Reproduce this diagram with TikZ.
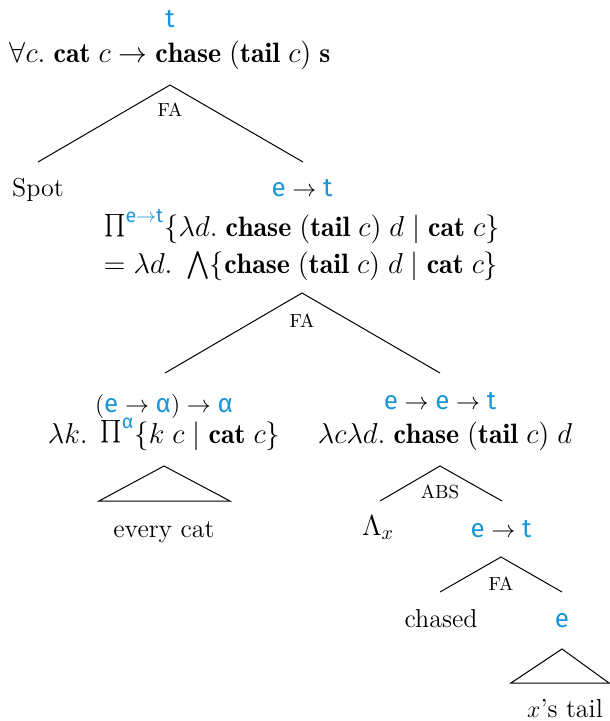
\documentclass[tikz,border=0pt]{standalone}
\usepackage{amsmath, amssymb}
\usepackage{graphicx}
\usepackage{fontspec}
\usepackage{tikz}
\usetikzlibrary{positioning}
\newfontfamily\typefont{Fira Sans}
\definecolor{typeblue}{RGB}{24,150,214}
\newcommand{\ty}[1]{\text{\color{typeblue}\typefont #1}}
\newcommand{\tyto}{{\color{typeblue}\to}}
\newcommand{\bigprod}{\mathop{\raisebox{0.2em}{\scalebox{0.8}{$\prod$}}}\nolimits}

\begin{document}
\begin{tikzpicture}[
  x=0.5pt, y=-0.5pt,
  lbl/.style={anchor=base, inner sep=0pt, font=\fontsize{13}{15}\selectfont},
  formula/.style={anchor=base, inner sep=0pt, font=\fontsize{14}{16}\selectfont},
  rulelbl/.style={anchor=base, inner sep=0pt, font=\fontsize{9.5}{11}\selectfont},
  branch/.style={line width=0.5pt}
]
  \useasboundingbox (0,0) rectangle (609,721);

  \node[lbl] (roottype) at (170,28) {$\ty{t}$};
  \node[formula] (root) at (170,63) {$\forall c.\;\mathbf{cat}\;c \rightarrow \mathbf{chase}\;(\mathbf{tail}\;c)\;\mathbf{s}$};
  \coordinate (fa1top) at (170,85);
  \coordinate (fa1left) at (38,162);
  \coordinate (fa1right) at (303,162);
  \node[rulelbl] (fa1) at (170,117) {FA};
  \draw[branch] (fa1left) -- (fa1top) -- (fa1right);

  \node[lbl] (spot) at (38,197) {Spot};
  \node[lbl] (vptype) at (302,197) {$\ty{e}\to\ty{t}$};
  \node[formula] (vp) at (302,237) {$\bigprod^{\ty{e}\tyto\ty{t}}\{\lambda d.\;\mathbf{chase}\;(\mathbf{tail}\;c)\;d \mid \mathbf{cat}\;c\}$};
  \node[formula] (vpeq) at (301,273) {$= \lambda d.\ \bigwedge\{\mathbf{chase}\;(\mathbf{tail}\;c)\;d \mid \mathbf{cat}\;c\}$};
  \coordinate (fa2top) at (302,293);
  \coordinate (fa2left) at (165,373);
  \coordinate (fa2right) at (440,373);
  \node[rulelbl] (fa2) at (302,327) {FA};
  \draw[branch] (fa2left) -- (fa2top) -- (fa2right);

  \node[lbl] (objtype) at (164,412) {$(\ty{e}\to\ty{α})\to\ty{α}$};
  \node[formula] (obj) at (164,443) {$\lambda k.\;\bigprod^{\ty{α}}\{k\;c \mid \mathbf{cat}\;c\}$};
  \coordinate (tri1top) at (164,466);
  \coordinate (tri1left) at (99,501);
  \coordinate (tri1right) at (230,501);
  \draw[branch] (tri1left) -- (tri1top) -- (tri1right) -- cycle;
  \node[lbl] (everycat) at (164,537) {every cat};

  \node[lbl] (vtype) at (440,409) {$\ty{e}\to\ty{e}\to\ty{t}$};
  \node[formula] (v) at (445,443) {$\lambda c\lambda d.\;\mathbf{chase}\;(\mathbf{tail}\;c)\;d$};
  \coordinate (abstop) at (440,466);
  \coordinate (absleft) at (380,501);
  \coordinate (absright) at (502,501);
  \node[rulelbl] (abs) at (440,498) {ABS};
  \draw[branch] (absleft) -- (abstop) -- (absright);

  \node[formula] (binder) at (378,535) {$\Lambda_x$};
  \node[lbl] (innertype) at (501,537) {$\ty{e}\to\ty{t}$};
  \coordinate (fa3top) at (501,557);
  \coordinate (fa3left) at (440,592);
  \coordinate (fa3right) at (562,592);
  \node[rulelbl] (fa3) at (501,590) {FA};
  \draw[branch] (fa3left) -- (fa3top) -- (fa3right);

  \node[lbl] (chased) at (441,627) {chased};
  \node[lbl] (tailtype) at (562,627) {$\ty{e}$};
  \coordinate (tri2top) at (562,649);
  \coordinate (tri2left) at (511,683);
  \coordinate (tri2right) at (609,683);
  \draw[branch] (tri2left) -- (tri2top) -- (tri2right) -- cycle;
  \node[lbl] (xtail) at (565,717) {$x$'s tail};
\end{tikzpicture}
\end{document}
